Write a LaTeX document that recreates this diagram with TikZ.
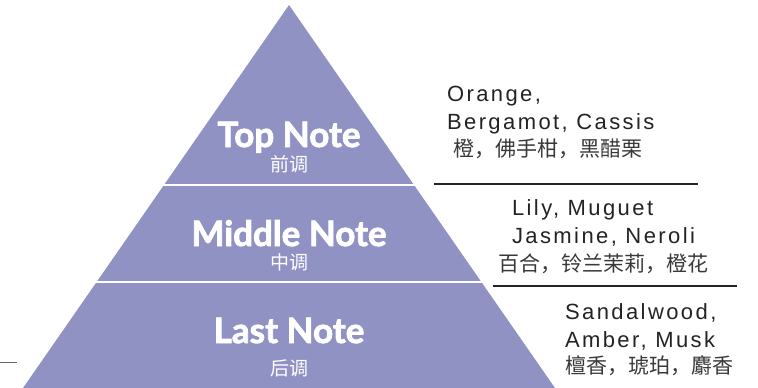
\documentclass[tikz,border=0pt]{standalone}
\usepackage{fontspec}
\usetikzlibrary{positioning}
\newfontfamily\notefont[BoldFeatures={FakeBold=2.2}]{Lato}
\newfontfamily\listfont[LetterSpace=11]{Liberation Sans}
\newfontfamily\cjk{Noto Sans CJK SC}
\definecolor{pyramid}{RGB}{145,146,196}
\definecolor{ink}{RGB}{35,35,35}

\begin{document}
\begin{tikzpicture}[x=1pt, y=-1pt]
        \tikzstyle{every node}=[inner sep=0pt, outer sep=0pt]
        \tikzstyle{note}=[anchor=base, text=white, font=\notefont\bfseries\fontsize{35}{35}\selectfont]
        \tikzstyle{notecn}=[anchor=base, text=white, text height=14pt, text depth=0pt, font=\cjk\fontsize{19}{19}\selectfont]
        \tikzstyle{item}=[anchor=base west, text=ink, font=\listfont\fontsize{22}{22}\selectfont]
        \tikzstyle{itemcn}=[anchor=base west, text=ink!90, font=\cjk\fontsize{21}{21}\selectfont]
        \tikzstyle{rule}=[draw=ink, line width=1.2pt]
        \tikzstyle{gap}=[draw=white, line width=2pt]

        \useasboundingbox (0,0) rectangle (758,388);

        % pyramid
        \coordinate (apex) at (289,5);
        \coordinate (baseR) at (555,388);
        \coordinate (baseL) at (23,388);
        \fill[pyramid] (apex) -- (baseR) -- (baseL) -- cycle;
        \draw[gap] (140,184.5) -- (430,184.5);
        \draw[gap] (60,281.5) -- (490,281.5);

        % labels inside
        \node[note]   (top)     at (289,147) {Top Note};
        \node[notecn] (topcn)   at (289,171) {前调};
        \node[note]   (middle)  at (289,246) {Middle Note};
        \node[notecn] (middlecn) at (289,269) {中调};
        \node[note]   (last)    at (289,343) {Last Note};
        \node[notecn] (lastcn)  at (289,375) {后调};

        % lists
        \node[item]   (orange)   at (447,101) {Orange,};
        \node[item]   (bergamot) at (447,129) {Bergamot, Cassis};
        \node[itemcn] (toplist)  at (453,156) {橙，佛手柑，黑醋栗};
        \node[item]   (lily)     at (512,215) {Lily, Muguet};
        \node[item]   (jasmine)  at (512,243) {Jasmine, Neroli};
        \node[itemcn] (midlist)  at (498,271) {百合，铃兰茉莉，橙花};
        \node[item]   (sandal)   at (565,319) {Sandalwood,};
        \node[item]   (amber)    at (565,347) {Amber, Musk};
        \node[itemcn] (lastlist) at (565,373) {檀香，琥珀，麝香};

        % rules
        \coordinate (r1a) at (434,184);
        \coordinate (r1b) at (698,184);
        \coordinate (r2a) at (493,286);
        \coordinate (r2b) at (737,286);
        \coordinate (tickA) at (0,362.5);
        \coordinate (tickB) at (17,362.5);
        \draw[rule] (r1a) -- (r1b);
        \draw[rule] (r2a) -- (r2b);
        \draw[draw=gray!80!black, line width=1.8pt] (tickA) -- (tickB);
\end{tikzpicture}
\end{document}
